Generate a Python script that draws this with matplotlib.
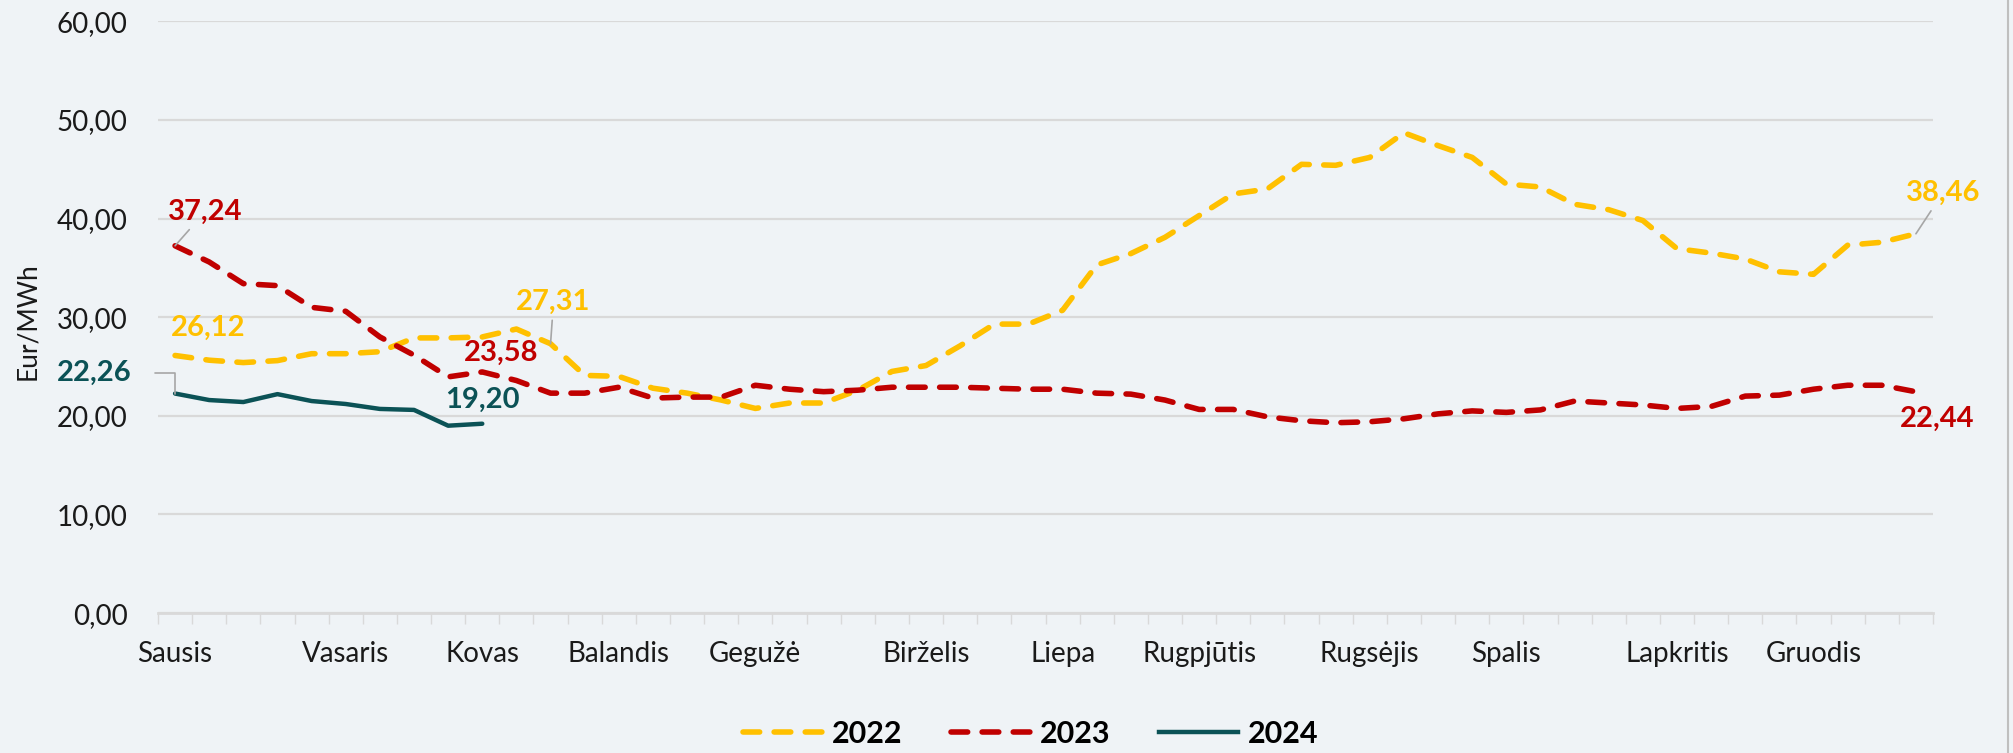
import matplotlib
matplotlib.use("Agg")
import matplotlib.pyplot as plt
from matplotlib.lines import Line2D

# savaitiniai duomenys, Eur/MWh
menesiai = ["Sausis", "Vasaris", "Kovas", "Balandis", "Gegužė", "Birželis",
            "Liepa", "Rugpjūtis", "Rugsėjis", "Spalis", "Lapkritis", "Gruodis"]
menesiu_savaites = [0, 5, 9, 13, 17, 22, 26, 30, 35, 39, 44, 48]

y2022 = [26.12, 25.64, 25.4, 25.6, 26.3, 26.3, 26.5, 27.9, 27.9, 28.0,
         28.8, 27.31, 24.1, 24.0, 22.8, 22.3, 21.6, 20.75, 21.3, 21.3,
         22.6, 24.5, 25.1, 27.1, 29.3, 29.3, 30.7, 35.3, 36.45, 38.1,
         40.3, 42.5, 43.0, 45.5, 45.4, 46.2, 48.7, 47.4, 46.2, 43.5,
         43.2, 41.45, 40.9, 39.8, 36.95, 36.5, 35.9, 34.6, 34.35, 37.3,
         37.6, 38.46]
y2023 = [37.24, 35.6, 33.4, 33.2, 31.0, 30.6, 28.0, 26.15, 23.95, 24.45,
         23.58, 22.3, 22.3, 22.9, 21.8, 21.9, 21.9, 23.1, 22.7, 22.45,
         22.6, 22.9, 22.9, 22.9, 22.8, 22.7, 22.7, 22.3, 22.2, 21.6,
         20.65, 20.65, 19.9, 19.5, 19.3, 19.4, 19.7, 20.2, 20.5, 20.35,
         20.6, 21.5, 21.3, 21.1, 20.75, 20.95, 22.0, 22.1, 22.7, 23.1,
         23.1, 22.44]
y2024 = [22.26, 21.6, 21.4, 22.2, 21.5, 21.2, 20.7, 20.6, 19.0, 19.20]

geltona = "#FFC000"
raudona = "#C00000"
zalia = "#0B5256"
fonas = "#EFF3F6"
tinklelis = "#D9D9D9"

plt.rcParams['font.family'] = ['Lato', 'DejaVu Sans']

fig = plt.figure(figsize=(20.13, 7.53), dpi=100, facecolor=fonas)
ax = fig.add_axes([158/2013, 1-613.1/753, (1933-158)/2013, (613.1-21.3)/753])
ax.set_facecolor(fonas)

x22 = list(range(len(y2022)))
x23 = list(range(len(y2023)))
x24 = list(range(len(y2024)))

ax.plot(x22, y2022, color=geltona, lw=4, dashes=(3, 2.6), dash_capstyle='round',
        solid_joinstyle='round', zorder=3)
ax.plot(x23, y2023, color=raudona, lw=4, dashes=(3, 2.6), dash_capstyle='round',
        solid_joinstyle='round', zorder=3)
ax.plot(x24, y2024, color=zalia, lw=3.2, solid_capstyle='round',
        solid_joinstyle='round', zorder=4)

ax.set_xlim(-0.5, 51.5)
ax.set_ylim(0, 60)
ax.set_yticks(range(0, 61, 10))
ax.set_yticklabels([f"{v},00" for v in range(0, 61, 10)])
ax.yaxis.grid(True, color=tinklelis, lw=1.6)
ax.set_axisbelow(True)

ax.set_xticks(menesiu_savaites)
ax.set_xticklabels(menesiai)
ax.set_xticks([i - 0.5 for i in range(53)], minor=True)
ax.tick_params(axis='x', which='major', length=0, pad=20, labelsize=20, labelcolor='#1a1a1a')
ax.tick_params(axis='x', which='minor', length=8, width=1, color=tinklelis)
ax.tick_params(axis='y', length=0, pad=22, labelsize=20, labelcolor='#1a1a1a')

for s in ['top', 'right', 'left']:
    ax.spines[s].set_visible(False)
ax.spines['bottom'].set_color(tinklelis)
ax.spines['bottom'].set_linewidth(2)

fig.text(28/2013, 1-321/753, "Eur/MWh", rotation=90, ha='center', va='center',
         fontsize=19, color='#1a1a1a')

# reiksmiu zymes
vedlys = dict(arrowstyle='-', color='#A6A6A6', lw=1.2, shrinkA=2, shrinkB=0)
def zyme(x, y, tekstas, spalva, dx, dy, rodykle=None):
    ax.annotate(tekstas, (x, y), xytext=(dx, dy), textcoords='offset pixels',
                ha='center', va='center', fontsize=21, fontweight='bold',
                color=spalva, arrowprops=rodykle, zorder=6)

zyme(0, y2023[0], "37,24", raudona, 30, 34, vedlys)
zyme(0, y2022[0], "26,12", geltona, 33, 28)
zyme(11, y2022[11], "27,31", geltona, 3, 42, vedlys)
zyme(10, y2023[10], "23,58", raudona, -15, 28)
zyme(9, y2024[9], "19,20", zalia, 0, 24)
zyme(0, y2024[0], "22,26", zalia, -81, 21,
     dict(arrowstyle='-', color='#A6A6A6', lw=1.2, shrinkA=15, shrinkB=0,
          connectionstyle="angle,angleA=0,angleB=90,rad=0", relpos=(1, 0.5)))
zyme(51, y2022[51], "38,46", geltona, 27, 41, vedlys)
zyme(51, y2023[51], "22,44", raudona, 21, -27)

# legenda
rankenos = [
    Line2D([], [], color=geltona, lw=4, dashes=(3, 2.6), dash_capstyle='round'),
    Line2D([], [], color=raudona, lw=4, dashes=(3, 2.6), dash_capstyle='round'),
    Line2D([], [], color=zalia, lw=3.2),
]
fig.legend(rankenos, ["2022", "2023", "2024"], loc='center', ncol=3,
           bbox_to_anchor=(0.512, 0.025), frameon=False,
           prop={'size': 22, 'weight': 'bold'}, handlelength=2.6,
           handletextpad=0.3, columnspacing=1.6)

fig.add_artist(Line2D([0.9975, 0.9975], [0, 1], color='#BFBFBF', lw=1.5,
                      transform=fig.transFigure))

fig.savefig("out.png", dpi=100, facecolor=fonas)
